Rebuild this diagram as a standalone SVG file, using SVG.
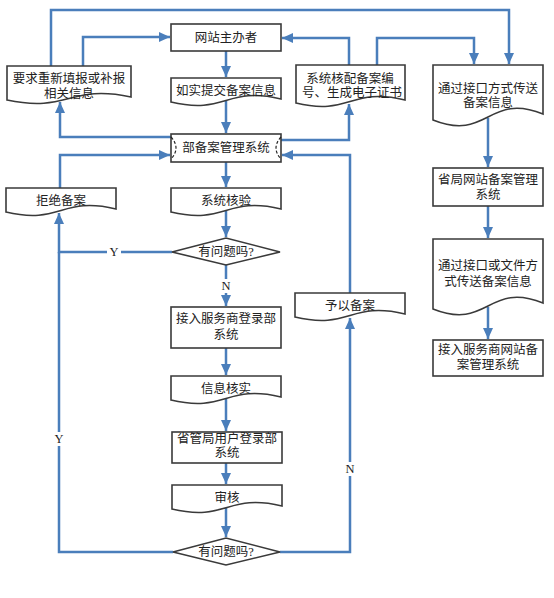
<svg xmlns="http://www.w3.org/2000/svg" width="554" height="598" viewBox="0 0 554 598">
<defs>
<style>
.nd{fill:#fff;stroke:#3a3a3a;stroke-width:1.6}
.dash{fill:none;stroke:#222;stroke-width:1.2;stroke-dasharray:3 2}
.t{font-family:"Liberation Serif","Noto Sans CJK SC",serif;font-size:12.5px;fill:#222;text-anchor:middle;dominant-baseline:central}
.c{fill:none;stroke:#4A7EBB;stroke-width:2.5}
.lb{fill:#fff}
</style>
<marker id="ah" markerUnits="userSpaceOnUse" markerWidth="12" markerHeight="10" refX="11" refY="5" orient="auto">
<path d="M0,0 L11,5 L0,10 Z" fill="#4A7EBB"/>
</marker>
</defs>
<rect width="554" height="598" fill="#fff"/>

<g id="connectors">
<path class="c" d="M226,101 V133" marker-end="url(#ah)"/>
<path class="c" d="M226,51 V77" marker-end="url(#ah)"/>
<path class="c" d="M226,162 V187" marker-end="url(#ah)"/>
<path class="c" d="M226,211 V237" marker-end="url(#ah)"/>
<path class="c" d="M226,265 V306" marker-end="url(#ah)"/>
<path class="c" d="M226,348 V375" marker-end="url(#ah)"/>
<path class="c" d="M226,399 V431" marker-end="url(#ah)"/>
<path class="c" d="M226,463 V484" marker-end="url(#ah)"/>
<path class="c" d="M226,508 V537" marker-end="url(#ah)"/>
<path class="c" d="M172,252 H59 V213" marker-end="url(#ah)"/>
<path class="c" d="M173,552 H59 V252"/>
<path class="c" d="M280,552 H350 V318" marker-end="url(#ah)"/>
<path class="c" d="M350,293 V155 H282" marker-end="url(#ah)"/>
<path class="c" d="M60,188 V155 H170" marker-end="url(#ah)"/>
<path class="c" d="M171,137 H60 V102" marker-end="url(#ah)"/>
<path class="c" d="M83,66 V37 H170" marker-end="url(#ah)"/>
<path class="c" d="M281,140 H349 V104" marker-end="url(#ah)"/>
<path class="c" d="M349,65 V38 H282" marker-end="url(#ah)"/>
<path class="c" d="M377,65 V38 H474 V64" marker-end="url(#ah)"/>
<path class="c" d="M51,66 V10 H509 V64" marker-end="url(#ah)"/>
<path class="c" d="M488,118 V167" marker-end="url(#ah)"/>
<path class="c" d="M488,206 V238" marker-end="url(#ah)"/>
<path class="c" d="M488,307 V339" marker-end="url(#ah)"/>
<rect class="lb" x="107" y="245" width="14" height="14"/>
<text class="t" x="114" y="252">Y</text>
<rect class="lb" x="52" y="432" width="14" height="14"/>
<text class="t" x="59" y="439">Y</text>
<rect class="lb" x="219" y="279" width="14" height="14"/>
<text class="t" x="226" y="286">N</text>
<rect class="lb" x="343" y="462" width="14" height="14"/>
<text class="t" x="350" y="469">N</text>
</g>

<g id="n_sponsor">
<rect class="nd" x="171" y="24" width="110" height="27"/>
<text class="t" x="226" y="38">网站主办者</text>
</g>
<g id="n_submit">
<path class="nd" d="M171,78 H281 V99 C226,86 226,115 171,102 Z"/>
<text class="t" x="226" y="91">如实提交备案信息</text>
</g>
<g id="n_system">
<rect class="nd" x="171" y="134" width="110" height="28"/>
<path class="dash" d="M171,137 Q181,148 171,159"/>
<path class="dash" d="M281,137 Q271,148 281,159"/>
<text class="t" x="226" y="148">部备案管理系统</text>
</g>
<g id="n_check">
<path class="nd" d="M171,188 H281 V209 C226,196 226,225 171,212 Z"/>
<text class="t" x="226" y="201">系统核验</text>
</g>
<g id="n_reject">
<path class="nd" d="M6,188 H116 V209 C61,196 61,225 6,212 Z"/>
<text class="t" x="61" y="201">拒绝备案</text>
</g>
<g id="n_d1">
<path class="nd" d="M172,252 L226,238 L280,252 L226,265 Z"/>
<text class="t" x="226" y="252">有问题吗?</text>
</g>
<g id="n_isp">
<rect class="nd" x="171" y="307" width="110" height="41"/>
<text class="t" x="226" y="319">接入服务商登录部</text>
<text class="t" x="226" y="335">系统</text>
</g>
<g id="n_verify">
<path class="nd" d="M171,376 H281 V397 C226,384 226,413 171,400 Z"/>
<text class="t" x="226" y="389">信息核实</text>
</g>
<g id="n_prov">
<rect class="nd" x="172" y="432" width="110" height="31"/>
<text class="t" x="227" y="439">省管局用户登录部</text>
<text class="t" x="227" y="453">系统</text>
</g>
<g id="n_audit">
<path class="nd" d="M172,485 H282 V506 C227,493 227,522 172,509 Z"/>
<text class="t" x="227" y="498">审核</text>
</g>
<g id="n_d2">
<path class="nd" d="M173,552 L226,538 L280,552 L226,565 Z"/>
<text class="t" x="226" y="552">有问题吗?</text>
</g>
<g id="n_approve">
<path class="nd" d="M295,293 H405 V314 C350,301 350,330 295,317 Z"/>
<text class="t" x="350" y="306">予以备案</text>
</g>
<g id="n_assign">
<path class="nd" d="M296,65 H405 V100 C350,87 350,116 296,103 Z"/>
<text class="t" x="350" y="79">系统核配备案编</text>
<text class="t" x="352" y="93">号、生成电子证书</text>
</g>
<g id="n_request">
<path class="nd" d="M7,66 H131 V97 C69,84 69,113 7,100 Z"/>
<text class="t" x="69" y="79">要求重新填报或补报</text>
<text class="t" x="69" y="94">相关信息</text>
</g>
<g id="n_iface">
<path class="nd" d="M433,65 H543 V114 C488,92 488,142 433,120 Z"/>
<text class="t" x="488" y="89">通过接口方式传送</text>
<text class="t" x="488" y="103">备案信息</text>
</g>
<g id="n_provsys">
<rect class="nd" x="433" y="168" width="110" height="38"/>
<text class="t" x="488" y="180">省局网站备案管理</text>
<text class="t" x="488" y="195">系统</text>
</g>
<g id="n_file">
<path class="nd" d="M433,239 H543 V303 C488,281 488,331 433,309 Z"/>
<text class="t" x="488" y="266">通过接口或文件方</text>
<text class="t" x="488" y="282">式传送备案信息</text>
</g>
<g id="n_ispsys">
<rect class="nd" x="433" y="340" width="110" height="36"/>
<text class="t" x="488" y="350">接入服务商网站备</text>
<text class="t" x="488" y="365">案管理系统</text>
</g>
</svg>
